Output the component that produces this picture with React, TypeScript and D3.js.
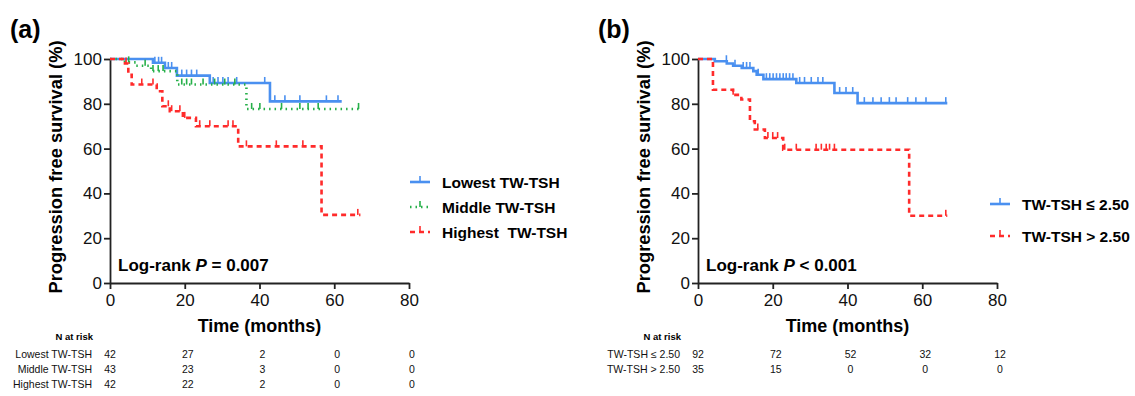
import React, { useEffect, useRef } from 'react';
import * as d3 from 'd3';

// ---- data ----
const xTicks = [0, 20, 40, 60, 80];
const yTicks = [0, 20, 40, 60, 80, 100];

// panel (a)
const lowSteps: [number, number][] = [[0, 100], [11.5, 98.3], [14.7, 96], [17.9, 92.6], [26.7, 89.3], [42.8, 81.1], [62, 81.1]];
const lowCensor = [12, 13, 13.8, 15.6, 16.5, 19.2, 20.5, 21.8, 23.2, 27.6, 28.9, 30.2, 31.6, 33.9, 41.4, 44.1, 46.8, 50.8, 57.9, 61];
const midSteps: [number, number][] = [[0, 100], [4, 98.5], [7, 97], [11, 94.6], [18, 88.6], [36.5, 77.7], [67, 77.7]];
const midCensor = [5, 9.4, 11.5, 12.9, 14.2, 19.2, 20.5, 21.8, 24.9, 28, 30.7, 33.4, 37.9, 40.1, 45.9, 50.8, 53, 55.7, 66.5];
const highSteps: [number, number][] = [[0, 100], [4, 98], [4.9, 93], [5.8, 88.6], [12.5, 85.6], [14, 78.9], [16, 76.7], [19.5, 73.7], [23, 70], [34.3, 61], [56.6, 30.4], [67, 30.4]];
const highCensor = [4.3, 8.5, 11.5, 15.6, 16.5, 18.7, 20, 24, 26.7, 31.6, 32.9, 36.5, 44.5, 51.6, 66.3];
const riskA = [
  { label: 'Lowest TW-TSH', n: [42, 27, 2, 0, 0] },
  { label: 'Middle TW-TSH', n: [43, 23, 3, 0, 0] },
  { label: 'Highest TW-TSH', n: [42, 22, 2, 0, 0] },
];

// panel (b)
const leSteps: [number, number][] = [[0, 100], [4.5, 99], [7.7, 98], [9.4, 97], [11.7, 96], [14.8, 94.6], [15.7, 93], [17.5, 91], [26.3, 89.3], [36.5, 84.8], [42.7, 80.3], [66.7, 80.3]];
const leCensor = [7.6, 9.9, 12.1, 13, 13.9, 16.1, 18.3, 19.2, 20.1, 21, 21.9, 22.8, 23.6, 24.5, 25.4, 27.2, 28.5, 30.3, 32.1, 33.4, 37.9, 39.6, 41.4, 44.5, 46.8, 49, 51.2, 53, 56.1, 58.3, 61, 66.3];
const gtSteps: [number, number][] = [[0, 100], [4, 86.3], [9.4, 84], [11.6, 81.9], [13.9, 72.2], [15.2, 68.5], [17.9, 64.7], [22.8, 59.5], [56.5, 30], [66.7, 30]];
const gtCensor = [9.4, 16, 18.7, 20, 21.3, 23.2, 26.3, 31.6, 33, 34.3, 35.2, 36.5, 66.3];
const riskB = [
  { label: 'TW-TSH ≤ 2.50', n: [92, 72, 52, 32, 12] },
  { label: 'TW-TSH > 2.50', n: [35, 15, 0, 0, 0] },
];

const BLUE = '#4a90f0';
const GREEN = '#27b04a';
const RED = '#ff2b2b';
const FONT = 'Liberation Sans, Arial, sans-serif';

type Curve = { steps: [number, number][]; censor: number[]; color: string; dash: string; name: string };

const panelA: Curve[] = [
  { steps: lowSteps, censor: lowCensor, color: BLUE, dash: '', name: 'Lowest TW-TSH' },
  { steps: midSteps, censor: midCensor, color: GREEN, dash: '1.5,4', name: 'Middle TW-TSH' },
  { steps: highSteps, censor: highCensor, color: RED, dash: '5,4', name: 'Highest  TW-TSH' },
];
const panelB: Curve[] = [
  { steps: leSteps, censor: leCensor, color: BLUE, dash: '', name: 'TW-TSH ≤ 2.50' },
  { steps: gtSteps, censor: gtCensor, color: RED, dash: '5,4', name: 'TW-TSH > 2.50' },
];

const App = () => {
  const svgRef = useRef<SVGSVGElement>(null);

  useEffect(() => {
    const svg = d3.select(svgRef.current);
    svg.selectAll('*').remove();

    const drawPanel = (
      x0: number, tag: string, curves: Curve[], risk: { label: string; n: number[] }[],
      pText: string, legX: number, legY: number, legGap: number
    ) => {
      const x = d3.scaleLinear().domain([0, 80]).range([x0, x0 + 299]);
      const y = d3.scaleLinear().domain([0, 100]).range([283, 59]);
      const g = svg.append('g').attr('font-family', FONT);

      // panel tag
      g.append('text').attr('x', x0 - 100).attr('y', 38).attr('font-size', 25).attr('font-weight', 'bold').text(tag);

      // axes
      const xa = g.append('g').attr('transform', `translate(0,${y(0)})`)
        .call(d3.axisBottom(x).tickValues(xTicks).tickSize(6).tickSizeOuter(0));
      const ya = g.append('g').attr('transform', `translate(${x0},0)`)
        .call(d3.axisLeft(y).tickValues(yTicks).tickSize(6).tickSizeOuter(0));
      [xa, ya].forEach(a => {
        a.select('.domain').attr('stroke', '#222').attr('stroke-width', 1.8);
        a.selectAll('.tick line').attr('stroke', '#222').attr('stroke-width', 1.8);
        a.selectAll('.tick text').attr('font-size', 17).attr('font-family', FONT).attr('fill', '#111');
      });
      xa.selectAll('.tick text').attr('dy', '0.85em');
      ya.selectAll('.tick text').attr('dx', '0.05em');

      g.append('text').attr('x', x(40)).attr('y', 332).attr('text-anchor', 'middle')
        .attr('font-size', 18).attr('font-weight', 'bold').text('Time (months)');
      g.append('text').attr('transform', `translate(${x0 - 48},${167}) rotate(-90)`)
        .attr('text-anchor', 'middle').attr('font-size', 18.3).attr('font-weight', 'bold')
        .text('Progression free survival (%)');

      // curves
      const line = d3.line<[number, number]>().x(d => x(d[0])).y(d => y(d[1])).curve(d3.curveStepAfter);
      curves.forEach(c => {
        g.append('path').datum(c.steps).attr('d', line).attr('fill', 'none')
          .attr('stroke', c.color).attr('stroke-width', 2.6).attr('stroke-dasharray', c.dash || null);
        const surv = (t: number) => {
          let s = 100;
          c.steps.forEach(p => { if (p[0] <= t) s = p[1]; });
          return s;
        };
        g.selectAll(null).data(c.censor).enter().append('line')
          .attr('x1', d => x(d)).attr('x2', d => x(d))
          .attr('y1', d => y(surv(d))).attr('y2', d => y(surv(d)) - 6)
          .attr('stroke', c.color).attr('stroke-width', 1.6);
      });

      // log-rank
      const lt = g.append('text').attr('x', x0 + 8).attr('y', 271).attr('font-size', 17).attr('font-weight', 'bold');
      lt.append('tspan').text('Log-rank ');
      lt.append('tspan').attr('font-style', 'italic').text('P');
      lt.append('tspan').text(pText);

      // legend
      curves.forEach((c, i) => {
        const ly = legY + i * legGap;
        g.append('line').attr('x1', legX).attr('x2', legX + 20).attr('y1', ly).attr('y2', ly)
          .attr('stroke', c.color).attr('stroke-width', 2.6).attr('stroke-dasharray', c.dash || null);
        g.append('line').attr('x1', legX + 10).attr('x2', legX + 10).attr('y1', ly).attr('y2', ly - 6)
          .attr('stroke', c.color).attr('stroke-width', 1.6);
        g.append('text').attr('x', legX + 32).attr('y', ly + 6).attr('font-size', 15.5).attr('font-weight', 'bold')
          .style('white-space', 'pre').text(c.name);
      });

      // risk table
      g.append('text').attr('x', x0 - 17).attr('y', 340).attr('text-anchor', 'end')
        .attr('font-size', 9.5).attr('font-weight', 'bold').text('N at risk');
      risk.forEach((r, i) => {
        const ry = 358 + i * 15;
        g.append('text').attr('x', x0 - 18).attr('y', ry).attr('text-anchor', 'end')
          .attr('font-size', 10.5).attr('fill', '#111').text(r.label);
        r.n.forEach((v, j) => {
          g.append('text').attr('x', x(xTicks[j]) + (j === 0 ? 0 : 3)).attr('y', ry).attr('text-anchor', 'middle')
            .attr('font-size', 10.5).attr('fill', '#111').text(v);
        });
      });
    };

    drawPanel(110, '(a)', panelA, riskA, ' = 0.007', 410, 182, 25);
    drawPanel(698, '(b)', panelB, riskB, ' < 0.001', 990, 204, 32);
  }, []);

  return (
    <div style={{ position: 'absolute', left: 0, top: 0, background: '#fff' }}>
      <svg ref={svgRef} width={1135} height={396}></svg>
    </div>
  );
};

export default App;
